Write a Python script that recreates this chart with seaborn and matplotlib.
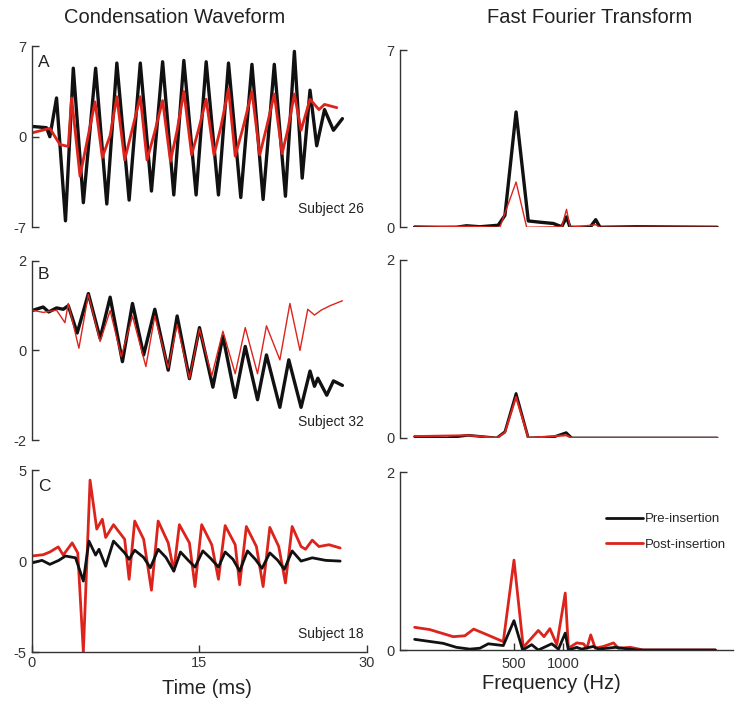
# %%
import pandas as pd
import seaborn as sns
import matplotlib.pyplot as plt

# %% condensation waveforms (time in ms)
a_pre_t = [0, 1.3, 1.6, 2.2, 3.0, 3.7, 4.6, 5.7, 6.7, 7.6, 8.7, 9.7, 10.7, 11.7, 12.7, 13.6,
           14.7, 15.6, 16.7, 17.6, 18.7, 19.7, 20.7, 21.7, 22.7, 23.5, 24.2, 24.9, 25.5, 26.2, 27.0, 27.8]
a_pre = [0.8, 0.7, 0.0, 3.0, -6.5, 5.3, -5.1, 5.3, -5.2, 5.7, -4.9, 5.7, -4.2, 5.8, -4.5, 5.9,
         -4.5, 5.8, -4.5, 5.7, -4.7, 5.6, -4.85, 5.6, -4.6, 6.6, -3.2, 3.6, -0.7, 2.1, 0.5, 1.4]
a_post_t = [0, 1.6, 2.5, 3.25, 3.55, 4.3, 5.05, 5.65, 6.3, 7.0, 7.6, 8.3, 8.9, 9.7, 10.3, 11.0,
            11.7, 12.4, 13.0, 13.6, 14.3, 14.9, 15.6, 16.3, 16.9, 17.6, 18.2, 18.9, 19.7, 20.4,
            21.0, 21.7, 22.4, 22.9, 23.5, 24.1, 24.9, 25.7, 26.2, 27.3]
a_post = [0.3, 0.65, -0.6, -0.75, 3.0, -3.05, 0.15, 2.7, -1.6, 0.1, 3.1, -1.8, 0.3, 3.1, -1.8, 0.4,
          2.8, -1.9, 0.5, 3.5, -1.4, 0.5, 2.9, -1.4, 0.7, 3.7, -1.5, 0.7, 3.5, -1.4,
          0.7, 3.3, -1.3, 0.5, 3.3, 0.5, 2.9, 2.1, 2.5, 2.25]

b_pre_t = [0, 1.0, 1.5, 2.2, 2.8, 3.25, 4.05, 5.05, 6.1, 7.0, 8.1, 9.0, 10.0, 11.0, 12.2, 13.0,
           14.1, 15.0, 16.2, 17.1, 18.2, 19.1, 20.2, 21.0, 22.2, 23.0, 24.1, 24.9, 25.3, 25.6,
           26.4, 27.0, 27.8]
b_pre = [0.89, 0.97, 0.86, 0.95, 0.92, 1.0, 0.39, 1.27, 0.27, 1.19, -0.25, 1.05, -0.1, 0.92, -0.44, 0.77,
         -0.63, 0.51, -0.82, 0.32, -1.05, 0.09, -1.1, -0.1, -1.27, -0.21, -1.27, -0.46, -0.8, -0.62,
         -1.0, -0.68, -0.78]
b_post_t = [0, 1.0, 2.2, 2.95, 3.25, 4.2, 5.05, 6.1, 7.0, 8.0, 9.0, 10.2, 11.0, 12.2, 13.0, 14.1,
            15.0, 16.1, 17.1, 18.2, 19.1, 20.2, 21.0, 22.2, 23.1, 24.0, 24.7, 25.3, 25.9, 26.7, 27.8]
b_post = [0.9, 0.85, 0.9, 0.62, 1.05, 0.05, 1.25, 0.2, 0.89, -0.14, 0.77, -0.36, 0.77, -0.39, 0.58, -0.63,
          0.48, -0.57, 0.43, -0.52, 0.51, -0.52, 0.55, -0.21, 1.05, 0.0, 0.92, 0.79, 0.9, 1.0, 1.11]

c_pre_t = [0, 0.9, 1.6, 2.4, 3.0, 3.9, 4.6, 5.1, 5.7, 6.0, 6.6, 7.3, 8.3, 8.7, 9.2, 10.0, 10.6, 11.3,
           12.0, 12.7, 13.3, 14.0, 14.6, 15.3, 16.0, 16.7, 17.3, 18.0, 18.6, 19.3, 20.0, 20.6, 21.3,
           22.0, 22.6, 23.3, 24.1, 25.1, 26.3, 27.6]
c_pre = [-0.1, 0.04, -0.18, 0.04, 0.28, 0.18, -1.1, 1.1, 0.33, 0.65, -0.28, 1.1, 0.45, 0.1, 0.6, 0.2, -0.37, 0.65,
         0.2, -0.55, 0.5, 0.04, -0.33, 0.56, 0.15, -0.33, 0.5, 0.1, -0.55, 0.56, 0.1, -0.4, 0.45,
         0.05, -0.45, 0.56, 0.0, 0.18, 0.04, 0.0]
c_post_t = [0, 1.0, 1.6, 2.35, 2.8, 3.6, 4.1, 4.6, 5.2, 5.8, 6.3, 6.6, 7.3, 8.3, 8.7, 9.2, 10.0, 10.7,
            11.3, 12.2, 12.7, 13.2, 14.1, 14.6, 15.2, 16.1, 16.7, 17.3, 18.2, 18.6, 19.2, 20.1, 20.7,
            21.3, 22.1, 22.7, 23.3, 24.1, 24.5, 25.1, 25.7, 26.6, 27.6]
c_post = [0.28, 0.35, 0.5, 0.78, 0.33, 1.0, 0.45, -5.0, 4.45, 1.76, 2.3, 1.3, 2.0, 1.2, -1.0, 2.2, 1.2, -1.6,
          2.2, 1.0, -0.55, 2.0, 1.0, -1.4, 2.0, 0.9, -1.0, 1.95, 0.9, -1.3, 1.9, 0.8, -1.4,
          1.85, 0.8, -1.2, 1.9, 0.8, 0.65, 1.15, 0.8, 0.9, 0.72]

# %% FFT (frequency in Hz)
fa_pre_f = [123, 167, 222, 256, 309, 400, 440, 515, 612, 722, 871, 981, 1050, 1103, 1464, 1585, 1684, 2830, 8800]
fa_pre = [0.01, 0.0, 0.0, 0.06, 0.02, 0.08, 0.47, 4.56, 0.25, 0.2, 0.15, 0.02, 0.41, 0.0, 0.0, 0.3, 0.0, 0.02, 0.0]
fa_post_f = [123, 256, 410, 515, 598, 981, 1050, 1103, 1585, 1684, 8800]
fa_post = [0.0, 0.04, 0.0, 1.79, 0.0, 0.02, 0.71, 0.0, 0.1, 0.0, 0.0]

fb_pre_f = [123, 193, 262, 392, 440, 515, 612, 871, 1045, 1130, 8800]
fb_pre = [0.015, 0.0, 0.03, 0.0, 0.07, 0.50, 0.0, 0.01, 0.06, 0.0, 0.0]
fb_post_f = [123, 262, 392, 440, 515, 612, 1045, 1130, 8800]
fb_post = [0.02, 0.03, 0.0, 0.06, 0.46, 0.0, 0.03, 0.0, 0.0]

fc_pre_f = [123, 184, 222, 268, 309, 348, 430, 500, 565, 642, 705, 852, 937, 1031, 1078, 1213, 1300,
            1532, 1650, 2090, 2830, 8590]
fc_pre = [0.12, 0.075, 0.03, 0.01, 0.02, 0.07, 0.05, 0.33, 0.0, 0.06, 0.0, 0.07, 0.01, 0.19, 0.0, 0.03, 0.01,
          0.04, 0.01, 0.03, 0.0, 0.0]
fc_post_f = [123, 152, 212, 250, 283, 324, 430, 500, 570, 705, 764, 830, 915, 1031, 1078, 1213, 1333,
             1400, 1477, 1575, 1767, 2039, 2180, 2590, 3100, 8590]
fc_post = [0.255, 0.23, 0.15, 0.16, 0.235, 0.19, 0.094, 1.01, 0.03, 0.22, 0.15, 0.24, 0.06, 0.64, 0.02, 0.08, 0.07,
           0.02, 0.17, 0.02, 0.04, 0.08, 0.02, 0.03, 0.0, 0.0]

subjects = ["Subject 26", "Subject 32", "Subject 18"]
letters = ["A", "B", "C"]
wave_ylim = [7, 2, 5]
fft_ylim = [7, 2, 2]

RED = "#dc241c"
BLACK = "#111111"
GREY = "#333333"

# %% figure
sns.set_theme(style="white")
plt.rcParams["font.family"] = ["Liberation Sans", "DejaVu Sans"]
plt.rcParams["axes.unicode_minus"] = False

fig = plt.figure(figsize=(7.37, 7.08), dpi=100)
left_pos = [[0.0434, 0.679, 0.4545, 0.2557],
            [0.0434, 0.3785, 0.4545, 0.253],
            [0.0434, 0.079, 0.4545, 0.257]]
right_pos = [[0.5427, 0.679, 0.4518, 0.25],
             [0.5427, 0.3814, 0.4518, 0.2514],
             [0.5427, 0.0819, 0.4518, 0.2514]]

waves = [(a_pre_t, a_pre, a_post_t, a_post, 2.4, 2.0),
         (b_pre_t, b_pre, b_post_t, b_post, 2.4, 1.0),
         (c_pre_t, c_pre, c_post_t, c_post, 2.0, 2.0)]
ffts = [(fa_pre_f, fa_pre, fa_post_f, fa_post, 2.4, 1.0),
        (fb_pre_f, fb_pre, fb_post_f, fb_post, 2.0, 1.5),
        (fc_pre_f, fc_pre, fc_post_f, fc_post, 2.0, 2.0)]


def style_axis(ax, show_x):
    for s in ["top", "right"]:
        ax.spines[s].set_visible(False)
    ax.spines["left"].set_color(GREY)
    ax.spines["left"].set_linewidth(1.0)
    ax.spines["bottom"].set_color(GREY)
    ax.spines["bottom"].set_linewidth(1.0)
    if not show_x:
        ax.spines["bottom"].set_visible(False)
        ax.set_xticks([])
    ax.tick_params(direction="in", length=5, width=1, colors=GREY, labelsize=10.5,
                   pad=4, left=True, bottom=show_x)
    ax.set_xlabel("")
    ax.set_ylabel("")
    ax.set_facecolor("none")


line_kw = dict(sort=False, estimator=None, solid_joinstyle="round", solid_capstyle="round")

for i in range(3):
    # waveform
    ax = fig.add_axes(left_pos[i])
    pt, pv, qt, qv, lw_pre, lw_post = waves[i]
    pre_df = pd.DataFrame({"time": pt, "value": pv})
    post_df = pd.DataFrame({"time": qt, "value": qv})
    order = [("pre", pre_df), ("post", post_df)] if i < 2 else [("post", post_df), ("pre", pre_df)]
    for name, d in order:
        sns.lineplot(data=d, x="time", y="value", ax=ax, legend=False,
                     color=BLACK if name == "pre" else RED,
                     linewidth=lw_pre if name == "pre" else lw_post, **line_kw)
    ax.set_xlim(0, 30)
    ax.set_ylim(-wave_ylim[i], wave_ylim[i])
    ax.set_yticks([-wave_ylim[i], 0, wave_ylim[i]])
    style_axis(ax, i == 2)
    if i == 2:
        ax.set_xticks([0, 15, 30])
        ax.tick_params(axis="x", pad=3)
    ax.text(0.018, 0.95 if i != 1 else 0.965, letters[i], transform=ax.transAxes,
            fontsize=12.5, va="top", ha="left", color="#222222")
    ax.text(0.99, 0.06, subjects[i], transform=ax.transAxes, fontsize=10,
            va="bottom", ha="right", color="#222222")

    # FFT
    ax = fig.add_axes(right_pos[i])
    pf, pv, qf, qv, lw_pre, lw_post = ffts[i]
    pre_df = pd.DataFrame({"freq": pf, "amp": pv})
    post_df = pd.DataFrame({"freq": qf, "amp": qv})
    if i < 2:
        sns.lineplot(data=pre_df, x="freq", y="amp", ax=ax, color=BLACK, linewidth=lw_pre,
                     label="Pre-insertion", **line_kw)
        sns.lineplot(data=post_df, x="freq", y="amp", ax=ax, color=RED, linewidth=lw_post,
                     label="Post-insertion", **line_kw)
    else:
        sns.lineplot(data=post_df, x="freq", y="amp", ax=ax, color=RED, linewidth=lw_post,
                     label="Post-insertion", **line_kw)
        sns.lineplot(data=pre_df, x="freq", y="amp", ax=ax, color=BLACK, linewidth=lw_pre,
                     label="Pre-insertion", **line_kw)
    ax.set_xscale("log")
    ax.set_xlim(100, 11000)
    ax.set_ylim(0, fft_ylim[i])
    ax.set_yticks([0, fft_ylim[i]])
    ax.minorticks_off()
    style_axis(ax, i == 2)
    if i == 2:
        ax.set_xticks([500, 1000])
        ax.set_xticklabels(["500", "1000"])
        ax.tick_params(axis="x", pad=5)
        handles, labels = ax.get_legend_handles_labels()
        ax.legend(handles[::-1], labels[::-1], frameon=False, loc="upper left",
                  bbox_to_anchor=(0.62, 0.77), handlelength=2.8, handletextpad=0.15,
                  labelspacing=1.0, fontsize=9.5, borderaxespad=0, borderpad=0)
    else:
        ax.get_legend().remove()

fig.text(0.237, 0.975, "Condensation Waveform", ha="center", va="center", fontsize=14.5, color="#222222")
fig.text(0.80, 0.975, "Fast Fourier Transform", ha="center", va="center", fontsize=14.5, color="#222222")
fig.text(0.281, 0.028, "Time (ms)", ha="center", va="center", fontsize=14.5, color="#222222")
fig.text(0.748, 0.034, "Frequency (Hz)", ha="center", va="center", fontsize=14.5, color="#222222")

fig.savefig("out.png", dpi=100)
